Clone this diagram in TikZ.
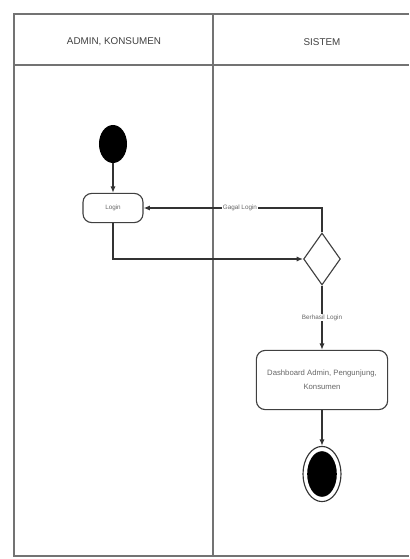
\documentclass[tikz,border=0pt]{standalone}
\usepackage{fontspec}
\setmainfont{Liberation Sans}
\usetikzlibrary{arrows.meta,shapes.geometric}
\tikzset{
  lane/.style={line width=0.8pt, color=black!55},
  flow/.style={line width=0.9pt, color=black!80, -{Latex[length=1.6mm,width=1.3mm]}},
  act/.style={draw=black!75, line width=0.8pt, rounded corners=0.22cm, align=center, inner sep=0pt, text=black!60},
  lbl/.style={fill=white, inner sep=0.5pt, text=black!60, font=\fontsize{4.5}{5}\selectfont},
}

\begin{document}
\begin{tikzpicture}[x=0.025cm, y=-0.025cm]
		%%%%% START %%%%%
		\useasboundingbox (0, 0) rectangle (409, 559);
		
		% swimlanes
		\draw[lane] (409, 14) -- (14, 14) -- (14, 556) -- (409, 556);
		\draw[lane] (14, 65) -- (409, 65);
		\draw[lane] (213, 14) -- (213, 556);
		\node[text=black!75, font=\fontsize{7}{8}\selectfont] (hadmin) at (114, 42) {ADMIN, KONSUMEN};
		\node[text=black!75, font=\fontsize{7}{8}\selectfont] (hsistem) at (322, 42) {SISTEM};
		
		% nodes
		\node[ellipse, fill=black, minimum width=0.7cm, minimum height=0.95cm, inner sep=0pt] (start) at (113, 144) {};
		\node[act, minimum width=1.5cm, minimum height=0.73cm, font=\fontsize{4.5}{5}\selectfont] (login) at (113, 208) {Login};
		\node[diamond, draw=black!75, line width=0.8pt, minimum width=0.92cm, minimum height=1.3cm, inner sep=0pt] (cek) at (322, 259) {};
		\node[act, minimum width=3.28cm, minimum height=1.48cm, font=\fontsize{5.5}{10}\selectfont] (dash) at (322, 380) {Dashboard Admin, Pengunjung,\\Konsumen};
		\node[ellipse, draw=black!80, line width=0.8pt, minimum width=0.95cm, minimum height=1.38cm, inner sep=0pt] (stop) at (322, 474) {};
		\node[ellipse, fill=black, minimum width=0.74cm, minimum height=1.14cm, inner sep=0pt] (stopin) at (322, 474) {};
		
		% flows
		\draw[flow] (start) -- (login);
		\draw[flow] (login.south) |- (cek.west);
		\draw[flow] (cek.north) |- node[lbl, pos=0.73] {Gagal Login} (login.east);
		\draw[flow] (cek.south) -- node[lbl, pos=0.5] {Berhasil Login} (dash.north);
		\draw[flow] (dash.south) -- (stop.north);
		%%%%% END %%%%%
	\end{tikzpicture}
\end{document}
